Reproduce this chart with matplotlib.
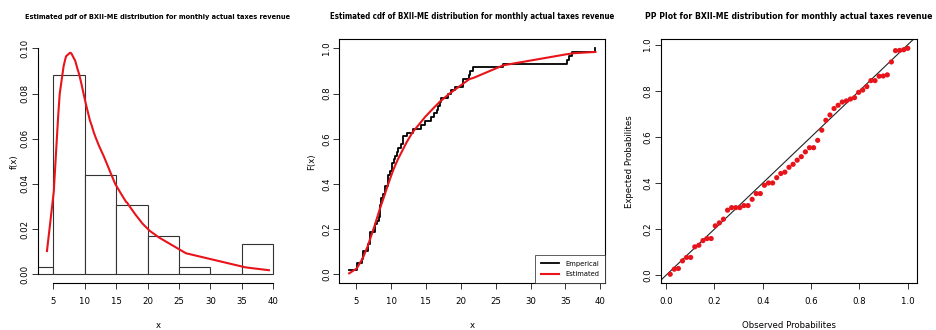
import os
import numpy as np
import matplotlib
matplotlib.use("Agg")
import matplotlib.pyplot as plt
from matplotlib import font_manager
from matplotlib.font_manager import FontProperties

# ---- data -------------------------------------------------------------
# sorted monthly actual taxes revenue sample (n = 59)
revenue = [4.0, 5.1, 5.15, 5.78, 6.03, 6.03, 6.64, 6.72, 6.94, 7.04,
           7.04, 7.64, 7.77, 7.93, 8.33, 8.45, 8.45, 8.45, 8.54, 8.54,
           8.84, 9.11, 9.11, 9.5, 9.61, 9.61, 9.87, 10.08, 10.15, 10.41,
           10.59, 10.84, 11.07, 11.42, 11.72, 11.72, 12.25, 13.1, 14.25, 14.85,
           15.7, 16.14, 16.59, 16.75, 17.0, 17.23, 18.13, 18.53, 19.2, 20.35,
           20.35, 21.2, 21.25, 21.8, 26.1, 35.2, 35.5, 36.0, 39.3]

# fitted BXII-ME density evaluated at the sorted sample
fitted_pdf = [0.0103, 0.037, 0.040, 0.070, 0.080, 0.080, 0.092, 0.093, 0.0955, 0.0965,
              0.0965, 0.098, 0.098, 0.0975, 0.0953, 0.0948, 0.0948, 0.0948, 0.094, 0.094,
              0.091, 0.0886, 0.0886, 0.084, 0.0826, 0.0826, 0.0793, 0.0767, 0.0758, 0.0728,
              0.0708, 0.068, 0.0662, 0.063, 0.0607, 0.0607, 0.057, 0.0518, 0.044, 0.040,
              0.036, 0.034, 0.032, 0.0317, 0.0306, 0.0297, 0.0262, 0.0248, 0.0224, 0.0192,
              0.0192, 0.0175, 0.0174, 0.0163, 0.0093, 0.0033, 0.0031, 0.0029, 0.0018]

# fitted BXII-ME cdf evaluated at the sorted sample (expected probabilities)
fitted_cdf = [0.004, 0.026, 0.029, 0.062, 0.077, 0.077, 0.123, 0.130, 0.150, 0.159,
              0.159, 0.214, 0.227, 0.243, 0.282, 0.293, 0.293, 0.293, 0.302, 0.302,
              0.329, 0.354, 0.354, 0.390, 0.400, 0.400, 0.423, 0.441, 0.447, 0.468,
              0.481, 0.499, 0.514, 0.535, 0.553, 0.553, 0.585, 0.629, 0.672, 0.695,
              0.723, 0.737, 0.751, 0.756, 0.764, 0.770, 0.793, 0.803, 0.818, 0.844,
              0.844, 0.863, 0.864, 0.869, 0.925, 0.974, 0.975, 0.978, 0.984]

hist_breaks = [0, 5, 10, 15, 20, 25, 30, 35, 40]

# ---- fonts: prefer a narrow sans face ----------------------------------------
def find_font(patterns):
    for pat in patterns:
        for f in font_manager.fontManager.ttflist:
            if os.path.basename(f.fname).lower() == pat.lower():
                return f.fname
    return None

reg_path = find_font(["LiberationSansNarrow-Regular.ttf", "DejaVuSansCondensed.ttf"])
bold_path = find_font(["LiberationSansNarrow-Bold.ttf", "DejaVuSansCondensed-Bold.ttf"])


def fp(size, bold=False):
    path = bold_path if bold else reg_path
    if path:
        return FontProperties(fname=path, size=size)
    return FontProperties(family="Liberation Sans", size=size,
                          weight="bold" if bold else "normal")


plt.rcParams["axes.linewidth"] = 0.8

RED = "#e8141b"
TICK_FS = 6.8
LAB_FS = 6.8

W, H = 937, 330
fig = plt.figure(figsize=(W / 100, H / 100), dpi=100)


def add_axes(x0, x1, y0=39.3, y1=283.3):
    return fig.add_axes([x0 / W, 1 - y1 / H, (x1 - x0) / W, (y1 - y0) / H])


def r_limits(lo, hi):
    pad = 0.04 * (hi - lo)
    return lo - pad, hi + pad


titles = []


def finish(ax, title, title_width, xlabel, ylabel, ylab_x):
    ax.tick_params(axis="both", direction="out", length=4, width=0.7,
                   color="#333333")
    ax.tick_params(axis="x", pad=6)
    ax.tick_params(axis="y", pad=2)
    for lab in ax.get_xticklabels():
        lab.set_fontproperties(fp(TICK_FS))
    for lab in ax.get_yticklabels():
        lab.set_fontproperties(fp(TICK_FS))
        lab.set_rotation(90)
        lab.set_va("center")
    ax.set_xlabel(xlabel, fontproperties=fp(LAB_FS), va="center")
    ax.xaxis.set_label_coords(0.5, -0.172)
    ax.set_ylabel(ylabel, fontproperties=fp(LAB_FS), va="center")
    ax.yaxis.set_label_coords(ylab_x, 0.5)
    t = ax.text(0.5, 1 + (39.3 - 16.5) / 244, title, transform=ax.transAxes,
                ha="center", va="center", fontproperties=fp(8, bold=True))
    titles.append((t, title_width))


x = np.array(revenue)
n = len(x)

# ---- panel 1: histogram with fitted density ------------------------------
ax1 = add_axes(38.1, 277.8)
ax1.hist(x, bins=hist_breaks, density=True, facecolor="white",
         edgecolor="#333333", linewidth=0.8)
ax1.plot(x, fitted_pdf, color=RED, lw=1.5)
ax1.set_xlim(*r_limits(x.min(), x.max()))
ax1.set_ylim(*r_limits(0, 0.10))
for side in ("top", "right"):
    ax1.spines[side].set_visible(False)
ax1.spines["left"].set_bounds(0, 0.10)
ax1.spines["bottom"].set_bounds(5, 40)
ax1.set_xticks(range(5, 41, 5))
ax1.set_yticks(np.arange(0, 0.101, 0.02))
ax1.set_yticklabels([f"{v:.2f}" for v in np.arange(0, 0.101, 0.02)])
finish(ax1, "Estimated pdf of BXII-ME distribution for monthly actual taxes revenue",
       266, "x", "f(x)", -0.10)

# ---- panel 2: empirical vs fitted cdf ------------------------------------
ax2 = add_axes(339.3, 605.3)
ecdf = np.arange(1, n + 1) / n
ax2.step(x, ecdf, where="post", color="black", lw=1.3, label="Emperical")
ax2.plot(x, fitted_cdf, color=RED, lw=1.5, label="Estimated")
ax2.set_xlim(*r_limits(x.min(), x.max()))
ax2.set_ylim(*r_limits(0, 1))
ax2.set_xticks(range(5, 41, 5))
ax2.set_yticks(np.arange(0, 1.01, 0.2))
ax2.set_yticklabels([f"{v:.1f}" for v in np.arange(0, 1.01, 0.2)])
finish(ax2, "Estimated cdf of BXII-ME distribution for monthly actual taxes revenue",
       286, "x", "F(x)", -0.104)
leg = ax2.legend(loc="lower right", prop=fp(5.4), frameon=True, fancybox=False,
                 edgecolor="#333333", handlelength=2.4, borderpad=0.8,
                 borderaxespad=0, labelspacing=0.55, handletextpad=0.9)
leg.get_frame().set_linewidth(0.7)

# ---- panel 3: PP plot -----------------------------------------------------
ax3 = add_axes(660.7, 917.3)
observed = np.arange(1, n + 1) / n
ax3.scatter(observed, fitted_cdf, s=14, color=RED, edgecolors="none", zorder=3)
ax3.axline((0, 0), slope=1, color="#222222", lw=0.8)
ax3.set_xlim(*r_limits(observed.min(), observed.max()))
ax3.set_ylim(*r_limits(min(fitted_cdf), max(fitted_cdf)))
ax3.set_xticks(np.arange(0, 1.01, 0.2))
ax3.set_xticklabels([f"{v:.1f}" for v in np.arange(0, 1.01, 0.2)])
ax3.set_yticks(np.arange(0, 1.01, 0.2))
ax3.set_yticklabels([f"{v:.1f}" for v in np.arange(0, 1.01, 0.2)])
finish(ax3, "PP Plot for BXII-ME distribution for monthly actual taxes revenue",
       285, "Observed Probabilites", "Expected Probabilites", -0.122)

# size each title so that it spans the width given for it
fig.canvas.draw()
renderer = fig.canvas.get_renderer()
for t, width in titles:
    cur = t.get_window_extent(renderer).width
    size = t.get_fontproperties().get_size_in_points() * width / cur
    t.set_fontproperties(fp(size, bold=True))

fig.savefig("out.png", dpi=100, facecolor="white")
